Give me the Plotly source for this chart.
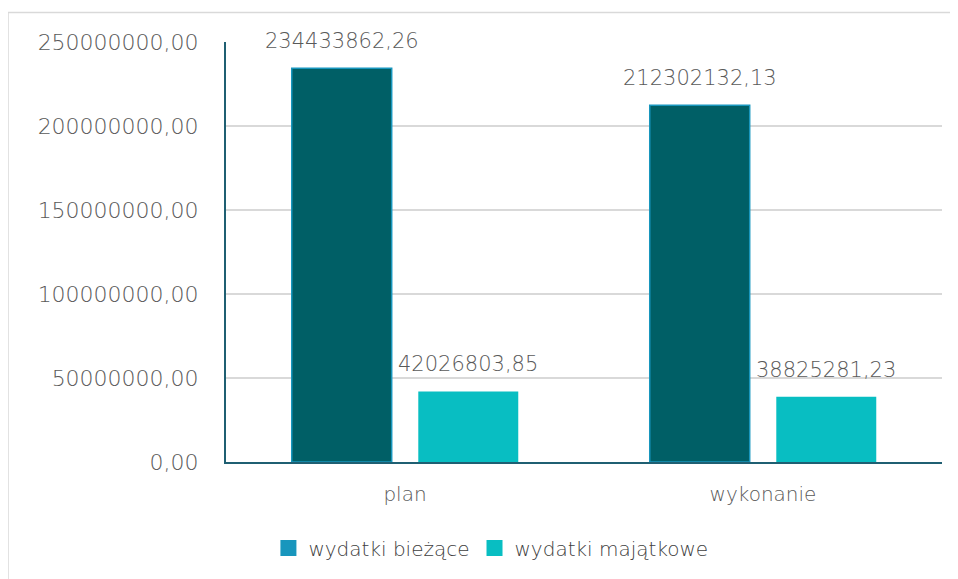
import plotly.graph_objects as go

categories = ["plan", "wykonanie"]
series_names = ["wydatki bieżące", "wydatki majątkowe"]
biezace = [234433862.26, 212302132.13]
majatkowe = [42026803.85, 38825281.23]
y_ticks = [0, 50000000, 100000000, 150000000, 200000000, 250000000]

FONT = "DejaVu Sans"
W = 200
TXT = "#595959"
C_DARK = "#005f66"
C_DARK_LINE = "#1896bd"
C_LIGHT = "#08bec2"
C_LEGEND = ["#1896bd", "#08bec2"]
AXIS = "#1f5f72"

def fmt(v):
    return f"{v:.2f}".replace(".", ",")

fig = go.Figure()
fig.add_trace(go.Bar(x=categories, y=biezace, name=series_names[0], showlegend=False,
                     marker=dict(color=C_DARK, line=dict(color=C_DARK_LINE, width=1.5))))
fig.add_trace(go.Bar(x=categories, y=majatkowe, name=series_names[1], showlegend=False,
                     marker=dict(color=C_LIGHT, line=dict(width=0))))
for name, col in zip(series_names, C_LEGEND):
    fig.add_trace(go.Scatter(x=[None], y=[None], mode="markers", name=name,
                             marker=dict(symbol="square", size=16, color=col)))

# data labels
for vals, xs in ((biezace, -63), (majatkowe, 63)):
    for c, v in zip(categories, vals):
        fig.add_annotation(x=c, y=v, xref="x", yref="y", text=fmt(v), showarrow=False,
                           xshift=xs, yshift=13, yanchor="bottom",
                           font=dict(family=FONT, size=21, color=TXT, weight=W))

# chart area border
fig.add_shape(type="rect", xref="paper", yref="paper",
              x0=(8.0 - 226) / 716, x1=1.1, y0=-0.4, y1=(462 - 12.5) / 420,
              line=dict(color="#d9d9d9", width=1.5), fillcolor="rgba(0,0,0,0)", layer="below")

fig.update_layout(
    width=950, height=571,
    margin=dict(l=218, r=16, t=34, b=117),
    plot_bgcolor="white", paper_bgcolor="white",
    barmode="group", bargap=0.293, bargroupgap=0.21,
    separators=", ",
    font=dict(family=FONT, color=TXT, size=20, weight=W),
    legend=dict(orientation="h", x=0.370, xanchor="center", y=-0.205, yanchor="middle",
                font=dict(family=FONT, size=20, color="#404040", weight=W),
                itemwidth=30, tracegroupgap=0, bgcolor="rgba(0,0,0,0)"),
    xaxis=dict(showgrid=False, showline=True, linecolor=AXIS, linewidth=2,
               tickfont=dict(family=FONT, size=20, color=TXT, weight=W), ticks="",
               ticklabelstandoff=13),
    yaxis=dict(range=[0, 250000000], tickvals=y_ticks, tickformat=".2f",
               showgrid=True, gridcolor="#d9d9d9", gridwidth=1.5,
               showline=True, linecolor=AXIS, linewidth=2, zeroline=False,
               ticks="", ticklabelstandoff=21,
               tickfont=dict(family=FONT, size=22, color=TXT, weight=W)),
)

fig.write_html("out.html")
